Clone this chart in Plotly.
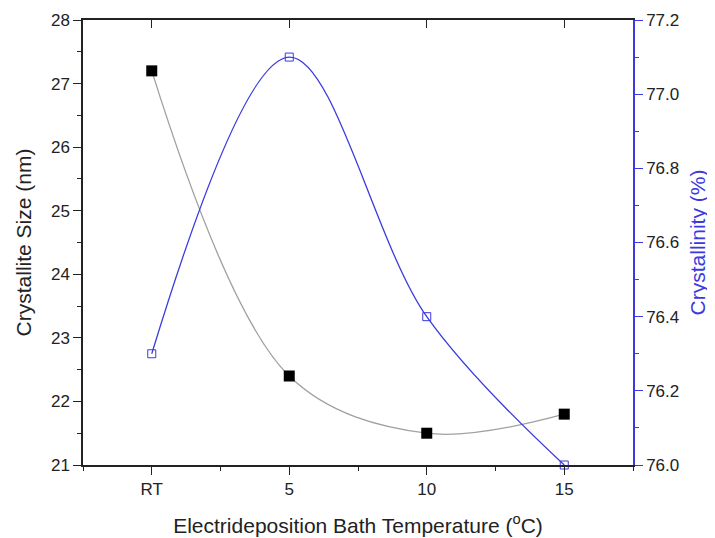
import plotly.graph_objects as go

categories = ["RT", "5", "10", "15"]
positions = [0, 1, 2, 3]
crystallite_size = [27.2, 22.4, 21.5, 21.8]
crystallinity = [76.3, 77.1, 76.4, 76.0]

font = "Liberation Sans, Arial, sans-serif"
blue = "#3a3ae0"
dark = "#222"

fig = go.Figure()
fig.add_trace(go.Scatter(
    x=positions, y=crystallite_size, mode="lines+markers",
    line=dict(color="#a0a0a0", width=1.3, shape="spline", smoothing=1.0),
    marker=dict(symbol="square", size=11, color="black"),
    showlegend=False, yaxis="y", cliponaxis=False))
fig.add_trace(go.Scatter(
    x=positions, y=crystallinity, mode="lines+markers",
    line=dict(color=blue, width=1.3, shape="spline", smoothing=1.0),
    marker=dict(symbol="square-open", size=8, color=blue, line=dict(width=1)),
    showlegend=False, yaxis="y2", cliponaxis=False))
# invisible trace for the top axis
fig.add_trace(go.Scatter(x=positions, y=crystallite_size, xaxis="x2", yaxis="y",
                         mode="markers", marker=dict(opacity=0), showlegend=False,
                         hoverinfo="skip"))

fig.update_layout(
    width=707, height=530,
    margin=dict(l=75, r=82, t=12, b=73),
    paper_bgcolor="white", plot_bgcolor="white",
    font=dict(family=font, size=17, color=dark),
    xaxis=dict(
        range=[-0.5, 3.5], tickvals=positions, ticktext=categories,
        showline=True, linecolor=dark, linewidth=1.5, automargin=False,
        ticks="outside", ticklen=8, tickwidth=1.3, tickcolor=dark,
        minor=dict(ticks="outside", ticklen=4, dtick=0.5, tick0=0, tickcolor=dark, tickwidth=1),
        showgrid=False, zeroline=False,
        title=dict(text="Electrideposition Bath Temperature (<sup>o</sup>C)", standoff=20,
                   font=dict(size=21)),
    ),
    xaxis2=dict(
        overlaying="x", side="top", range=[-0.5, 3.5], tickvals=positions,
        showticklabels=False, showline=True, linecolor=dark, linewidth=1.5,
        ticks="inside", ticklen=8, tickcolor=dark, showgrid=False, zeroline=False,
        automargin=False,
    ),
    yaxis=dict(
        range=[21, 28], dtick=1, tick0=21,
        showline=True, linecolor=dark, linewidth=1.5, automargin=False,
        ticks="outside", ticklen=8, tickwidth=1.3, tickcolor=dark,
        minor=dict(ticks="outside", ticklen=4, dtick=0.5, tick0=21, tickcolor=dark, tickwidth=1),
        showgrid=False, zeroline=False,
        title=dict(text="Crystallite Size (nm)", standoff=14, font=dict(size=21)),
    ),
    yaxis2=dict(
        overlaying="y", side="right", range=[76.0, 77.2], dtick=0.2, tick0=76.0,
        tickformat=".1f", automargin=False,
        showline=True, linecolor=blue, linewidth=1.5,
        ticks="outside", ticklen=8, tickwidth=1.3, tickcolor=blue,
        minor=dict(ticks="outside", ticklen=4, dtick=0.1, tick0=76.0, tickcolor=blue, tickwidth=1),
        showgrid=False, zeroline=False,
        tickfont=dict(color=dark),
        title=dict(text="Crystallinity (%)", standoff=12, font=dict(size=21, color=blue)),
    ),
)

fig.write_html("out.html")
